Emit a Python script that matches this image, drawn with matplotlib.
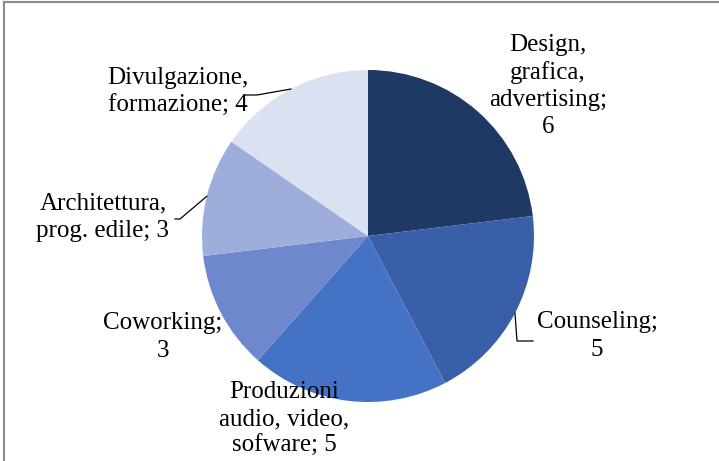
import numpy as np
import matplotlib
matplotlib.use("Agg")
import matplotlib.pyplot as plt
from matplotlib.lines import Line2D

categories = ["Design,\ngrafica,\nadvertising", "Counseling", "Produzioni\naudio, video,\nsofware",
              "Coworking", "Architettura,\nprog. edile", "Divulgazione,\nformazione"]
values = [6, 5, 5, 3, 3, 4]
label_text = ["Design,\ngrafica,\nadvertising;\n6", "Counseling;\n5", "Produzioni\naudio, video,\nsofware; 5",
              "Coworking;\n3", "Architettura,\nprog. edile; 3", "Divulgazione,\nformazione; 4"]
colors = ["#203864", "#3A5FA9", "#4472C4", "#6F88CD", "#9EADD9", "#DAE2F2"]

W, H = 719, 461
fig = plt.figure(figsize=(W / 100, H / 100), dpi=100)
ax = fig.add_axes([0, 0, 1, 1])

cx, cy, r = 368, H - 236, 166
wedges, _ = ax.pie(values, colors=colors, startangle=90, counterclock=False,
                   center=(cx, cy), radius=r, frame=True,
                   wedgeprops=dict(linewidth=0))
ax.set_xlim(0, W)
ax.set_ylim(0, H)
ax.set_aspect("equal")
ax.axis("off")

font = dict(family="Liberation Serif", fontsize=18, color="black",
            ha="center", va="center", linespacing=1.3, multialignment="center")

# label block centres (figure pixels from top-left)
label_pos = [(548, 86), (597, 336), (284, 419), (163, 337), (103, 217), (178, 92)]
for txt, (x, y) in zip(label_text, label_pos):
    ax.text(x, H - y, txt, **font)

def edge_point(w):
    mid = np.deg2rad((w.theta1 + w.theta2) / 2)
    return cx + r * np.cos(mid), cy + r * np.sin(mid)

# leader lines: wedge edge -> elbow -> end at label
leaders = {1: [(517, 341), (533, 341)],
           4: [(180, 219), (175, 219)],
           5: [(257, 95), (245, 95)]}
for i, pts in leaders.items():
    ex, ey = edge_point(wedges[i])
    xs = [ex] + [p[0] for p in pts]
    ys = [ey] + [H - p[1] for p in pts]
    ax.plot(xs, ys, color="black", linewidth=0.9, solid_joinstyle="miter")

# chart area border (top and left)
fig.add_artist(Line2D([4 / W, 1], [1 - 2 / H, 1 - 2 / H], color="#8a8a8a", linewidth=1.5))
fig.add_artist(Line2D([4 / W, 4 / W], [0, 1 - 2 / H], color="#8a8a8a", linewidth=1.5))

fig.savefig("out.png", dpi=100, facecolor="white")
